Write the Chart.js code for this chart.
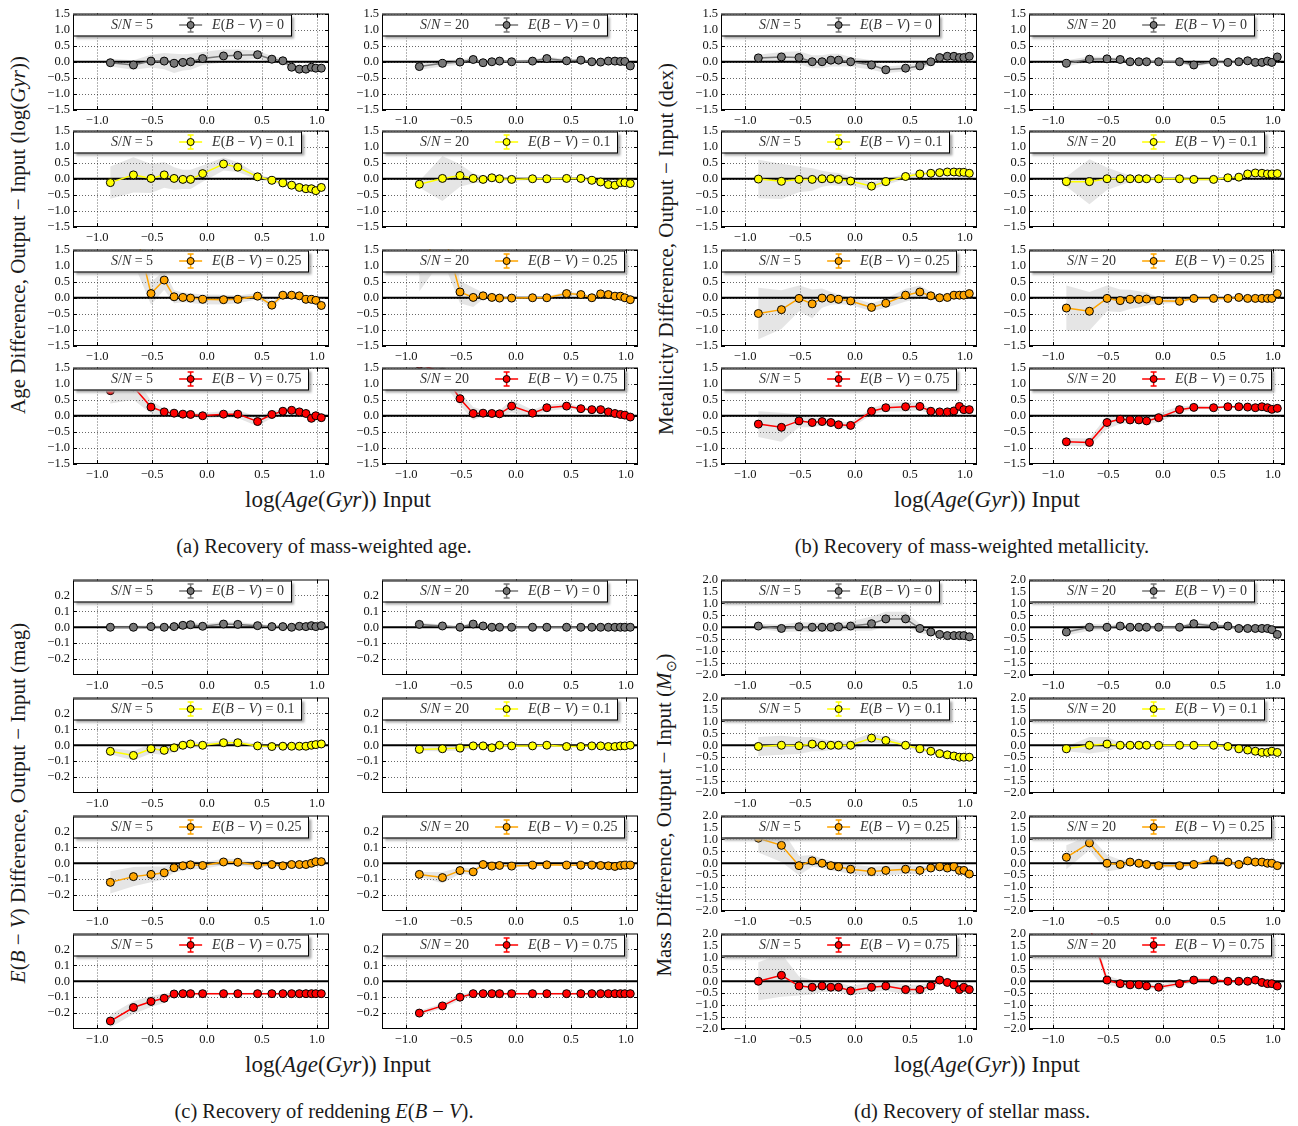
<!DOCTYPE html>
<html>
<head>
<meta charset="utf-8">
<script src="https://cdn.jsdelivr.net/npm/chart.js@4.4.0/dist/chart.umd.min.js"></script>
<style>
  body { margin: 0; background: #fff; }
  #page { position: relative; width: 1298px; height: 1126px; overflow: hidden;
          font-family: "Liberation Serif", serif; color: #1a1a1a; background: #fff; }
  #page canvas { position: absolute; }
  .ylab { position: absolute; white-space: nowrap; font-size: 21px;
          transform: translate(-50%, -50%) rotate(-90deg); }
  .xlab { position: absolute; white-space: nowrap; font-size: 23px; transform: translate(-50%, -50%); }
  .cap  { position: absolute; white-space: nowrap; font-size: 20.5px; transform: translate(-50%, -50%); }
</style>
</head>
<body>
<div id="page">
  <div class="ylab" style="left:18px; top:235px">Age Difference, Output &minus; Input (log(<i>Gyr</i>))</div>
  <div class="ylab" style="left:666px; top:249px">Metallicity Difference, Output &minus; Input (dex)</div>
  <div class="ylab" style="left:18px; top:803px"><i>E</i>(<i>B</i> &minus; <i>V</i>) Difference, Output &minus; Input (mag)</div>
  <div class="ylab" style="left:666px; top:815px">Mass Difference, Output &minus; Input (<i>M</i><sub style="font-size:14px">&#8857;</sub>)</div>

  <div class="xlab" style="left:338px; top:500px">log(<i>Age</i>(<i>Gyr</i>)) Input</div>
  <div class="xlab" style="left:987px; top:500px">log(<i>Age</i>(<i>Gyr</i>)) Input</div>
  <div class="xlab" style="left:338px; top:1065px">log(<i>Age</i>(<i>Gyr</i>)) Input</div>
  <div class="xlab" style="left:987px; top:1065px">log(<i>Age</i>(<i>Gyr</i>)) Input</div>

  <div class="cap" style="left:324px; top:546px">(a) Recovery of mass-weighted age.</div>
  <div class="cap" style="left:972px; top:546px">(b) Recovery of mass-weighted metallicity.</div>
  <div class="cap" style="left:324px; top:1111px">(c) Recovery of reddening <i>E</i>(<i>B</i> &minus; <i>V</i>).</div>
  <div class="cap" style="left:972px; top:1111px">(d) Recovery of stellar mass.</div>
</div>
<script>
// input ages, log(Gyr)
const logAge = [-0.88, -0.67, -0.51, -0.39, -0.30, -0.22, -0.15, -0.04, 0.15, 0.28, 0.46, 0.59, 0.69, 0.77, 0.84, 0.90, 0.95, 0.99, 1.04];

const snLabels = ['5', '20'];
const ebvLabels = ['0', '0.1', '0.25', '0.75'];
const ebvColors = ['#777777', '#ffff00', '#ffa500', '#ff0000'];

const xTicks = [-1.0, -0.5, 0.0, 0.5, 1.0];
const ticksAge = [-1.5, -1.0, -0.5, 0.0, 0.5, 1.0, 1.5];
const ticksEbv = [-0.2, -0.1, 0.0, 0.1, 0.2];
const ticksMass = [-2.0, -1.5, -1.0, -0.5, 0.0, 0.5, 1.0, 1.5, 2.0];

// age difference, one row per E(B-V)
const ageSN5 = [
  [-0.03, -0.10, 0.02, 0.02, -0.05, -0.02, 0.00, 0.10, 0.18, 0.20, 0.22, 0.08, 0.03, -0.17, -0.23, -0.23, -0.17, -0.20, -0.20],
  [-0.12, 0.12, 0.01, 0.12, 0.01, -0.02, -0.02, 0.16, 0.46, 0.36, 0.06, -0.05, -0.13, -0.20, -0.27, -0.31, -0.31, -0.37, -0.27],
  [2.50, 2.40, 0.13, 0.55, 0.03, 0.01, -0.01, -0.05, -0.06, -0.05, 0.05, -0.23, 0.08, 0.08, 0.06, -0.05, -0.05, -0.08, -0.24],
  [0.78, 0.90, 0.27, 0.12, 0.08, 0.05, 0.04, 0.00, 0.05, 0.05, -0.18, 0.04, 0.14, 0.17, 0.12, 0.07, -0.08, 0.00, -0.06]
];
const ageSN5Err = [
  [0.12, 0.15, 0.20, 0.25, 0.30, 0.25, 0.25, 0.20, 0.20, 0.18, 0.12, 0.10, 0.08, 0.06, 0.05, 0.05, 0.05, 0.05, 0.05],
  [0.50, 0.55, 0.45, 0.40, 0.35, 0.30, 0.30, 0.25, 0.20, 0.15, 0.08, 0.06, 0.05, 0.05, 0.05, 0.05, 0.05, 0.05, 0.05],
  [1.50, 1.30, 0.35, 0.30, 0.20, 0.15, 0.15, 0.15, 0.15, 0.12, 0.10, 0.10, 0.08, 0.08, 0.06, 0.06, 0.06, 0.06, 0.06],
  [0.40, 0.40, 0.20, 0.10, 0.08, 0.07, 0.07, 0.08, 0.10, 0.12, 0.15, 0.10, 0.08, 0.06, 0.06, 0.06, 0.06, 0.06, 0.06]
];
const ageSN20 = [
  [-0.15, -0.05, -0.01, 0.07, -0.03, 0.00, 0.02, 0.00, 0.02, 0.10, 0.03, 0.05, 0.00, -0.01, 0.02, 0.02, 0.01, 0.01, -0.13],
  [-0.17, 0.01, 0.10, 0.01, -0.02, 0.03, 0.00, -0.02, 0.00, 0.00, 0.01, 0.01, -0.05, -0.10, -0.18, -0.20, -0.12, -0.12, -0.15],
  [0.90, 2.20, 0.18, 0.01, 0.06, 0.01, -0.01, -0.01, 0.00, 0.00, 0.13, 0.10, 0.00, 0.12, 0.10, 0.05, 0.05, 0.00, -0.06],
  [1.60, 1.35, 0.53, 0.07, 0.08, 0.07, 0.06, 0.30, 0.08, 0.25, 0.30, 0.22, 0.19, 0.19, 0.12, 0.07, 0.04, 0.02, -0.04]
];
const ageSN20Err = [
  [0.10, 0.10, 0.08, 0.06, 0.05, 0.05, 0.05, 0.05, 0.05, 0.06, 0.05, 0.05, 0.05, 0.04, 0.04, 0.04, 0.04, 0.04, 0.06],
  [0.10, 0.70, 0.35, 0.15, 0.10, 0.07, 0.06, 0.05, 0.04, 0.04, 0.04, 0.04, 0.04, 0.04, 0.05, 0.05, 0.05, 0.05, 0.05],
  [0.70, 1.00, 0.35, 0.30, 0.10, 0.06, 0.05, 0.04, 0.04, 0.05, 0.06, 0.05, 0.05, 0.05, 0.05, 0.05, 0.04, 0.04, 0.04],
  [0.30, 0.30, 0.20, 0.20, 0.10, 0.08, 0.10, 0.20, 0.10, 0.10, 0.08, 0.06, 0.05, 0.05, 0.05, 0.04, 0.04, 0.04, 0.04]
];

// metallicity difference (dex)
const metSN5 = [
  [0.12, 0.15, 0.13, 0.00, 0.00, 0.05, 0.05, 0.00, -0.10, -0.25, -0.20, -0.13, 0.00, 0.13, 0.17, 0.17, 0.13, 0.13, 0.17],
  [-0.01, -0.08, -0.02, -0.02, 0.00, 0.00, -0.02, -0.07, -0.23, -0.09, 0.07, 0.15, 0.17, 0.19, 0.21, 0.21, 0.20, 0.20, 0.17],
  [-0.49, -0.37, -0.02, -0.19, -0.01, -0.02, -0.05, -0.10, -0.30, -0.17, 0.08, 0.18, 0.06, 0.00, 0.01, 0.08, 0.08, 0.08, 0.13],
  [-0.26, -0.36, -0.16, -0.21, -0.18, -0.21, -0.28, -0.30, 0.14, 0.25, 0.28, 0.29, 0.14, 0.12, 0.12, 0.15, 0.29, 0.19, 0.19]
];
const metSN5Err = [
  [0.10, 0.15, 0.20, 0.20, 0.20, 0.20, 0.20, 0.15, 0.15, 0.10, 0.10, 0.10, 0.10, 0.05, 0.05, 0.05, 0.05, 0.05, 0.05],
  [0.60, 0.55, 0.40, 0.35, 0.25, 0.20, 0.20, 0.15, 0.12, 0.10, 0.08, 0.06, 0.06, 0.05, 0.05, 0.05, 0.05, 0.05, 0.05],
  [0.80, 0.60, 0.40, 0.45, 0.30, 0.20, 0.15, 0.12, 0.12, 0.15, 0.20, 0.20, 0.12, 0.08, 0.06, 0.06, 0.06, 0.06, 0.06],
  [0.40, 0.45, 0.20, 0.15, 0.12, 0.12, 0.10, 0.10, 0.10, 0.12, 0.15, 0.12, 0.08, 0.06, 0.06, 0.06, 0.06, 0.05, 0.05]
];
const metSN20 = [
  [-0.05, 0.08, 0.09, 0.07, 0.00, 0.00, 0.00, 0.00, 0.00, -0.10, -0.01, -0.02, 0.00, 0.03, -0.02, -0.02, 0.02, -0.02, 0.15],
  [-0.09, -0.09, 0.00, 0.00, 0.00, 0.00, 0.00, 0.00, 0.00, -0.02, -0.02, 0.03, 0.05, 0.15, 0.18, 0.17, 0.15, 0.15, 0.16],
  [-0.32, -0.42, -0.02, -0.09, -0.05, -0.05, -0.04, -0.09, -0.11, -0.02, -0.02, -0.02, 0.01, -0.02, -0.02, -0.02, -0.02, -0.02, 0.13],
  [-0.81, -0.83, -0.21, -0.11, -0.13, -0.13, -0.16, -0.06, 0.19, 0.26, 0.25, 0.28, 0.28, 0.27, 0.25, 0.28, 0.25, 0.20, 0.23]
];
const metSN20Err = [
  [0.10, 0.08, 0.06, 0.05, 0.04, 0.04, 0.04, 0.04, 0.05, 0.06, 0.04, 0.04, 0.04, 0.04, 0.04, 0.04, 0.04, 0.04, 0.05],
  [0.15, 0.70, 0.35, 0.20, 0.10, 0.08, 0.06, 0.05, 0.04, 0.04, 0.04, 0.04, 0.04, 0.04, 0.04, 0.04, 0.04, 0.04, 0.04],
  [0.70, 0.60, 0.40, 0.35, 0.30, 0.25, 0.20, 0.10, 0.05, 0.04, 0.04, 0.04, 0.04, 0.04, 0.04, 0.04, 0.04, 0.04, 0.05],
  [0.12, 0.12, 0.20, 0.15, 0.10, 0.10, 0.10, 0.15, 0.10, 0.06, 0.05, 0.04, 0.04, 0.04, 0.04, 0.04, 0.04, 0.04, 0.04]
];

// reddening difference (mag)
const ebvSN5 = [
  [0.000, 0.000, 0.004, 0.000, 0.004, 0.012, 0.016, 0.006, 0.020, 0.018, 0.010, 0.004, 0.004, 0.000, 0.006, 0.004, 0.010, 0.004, 0.010],
  [-0.038, -0.064, -0.022, -0.032, -0.016, 0.000, 0.008, 0.000, 0.016, 0.016, -0.004, -0.008, -0.006, -0.006, -0.006, -0.006, 0.000, 0.004, 0.008],
  [-0.120, -0.084, -0.070, -0.060, -0.028, -0.016, -0.010, -0.014, 0.008, 0.006, -0.012, -0.008, -0.016, -0.008, -0.008, -0.008, 0.000, 0.010, 0.010],
  [-0.250, -0.165, -0.127, -0.107, -0.080, -0.078, -0.078, -0.078, -0.078, -0.078, -0.078, -0.078, -0.078, -0.078, -0.078, -0.078, -0.078, -0.078, -0.078]
];
const ebvSN5Err = [
  [0.010, 0.010, 0.010, 0.010, 0.015, 0.020, 0.020, 0.015, 0.015, 0.015, 0.010, 0.010, 0.010, 0.010, 0.010, 0.010, 0.010, 0.010, 0.010],
  [0.020, 0.030, 0.030, 0.030, 0.025, 0.020, 0.020, 0.015, 0.015, 0.015, 0.010, 0.010, 0.010, 0.010, 0.010, 0.010, 0.010, 0.010, 0.010],
  [0.070, 0.060, 0.050, 0.040, 0.030, 0.030, 0.030, 0.020, 0.020, 0.020, 0.015, 0.010, 0.010, 0.010, 0.010, 0.010, 0.010, 0.010, 0.010],
  [0.040, 0.040, 0.035, 0.030, 0.010, 0.005, 0.005, 0.005, 0.005, 0.005, 0.005, 0.005, 0.005, 0.005, 0.005, 0.005, 0.005, 0.005, 0.005]
];
const ebvSN20 = [
  [0.018, 0.008, 0.000, 0.020, 0.008, 0.000, 0.000, 0.000, 0.000, 0.000, 0.000, 0.000, 0.000, 0.000, 0.000, 0.000, 0.000, 0.000, 0.000],
  [-0.026, -0.022, -0.018, -0.004, -0.004, -0.016, 0.000, -0.004, -0.004, 0.000, -0.008, -0.008, -0.004, -0.004, -0.008, -0.008, -0.004, -0.004, 0.000],
  [-0.070, -0.090, -0.046, -0.054, -0.008, -0.018, -0.014, -0.018, -0.012, -0.010, -0.012, -0.012, -0.012, -0.014, -0.016, -0.020, -0.014, -0.012, -0.012],
  [-0.200, -0.155, -0.100, -0.078, -0.078, -0.078, -0.078, -0.078, -0.078, -0.078, -0.078, -0.078, -0.078, -0.078, -0.078, -0.078, -0.078, -0.078, -0.078]
];
const ebvSN20Err = [
  [0.010, 0.010, 0.010, 0.010, 0.005, 0.005, 0.005, 0.005, 0.005, 0.005, 0.005, 0.005, 0.005, 0.005, 0.005, 0.005, 0.005, 0.005, 0.005],
  [0.010, 0.015, 0.015, 0.015, 0.010, 0.010, 0.005, 0.005, 0.005, 0.005, 0.005, 0.005, 0.005, 0.005, 0.005, 0.005, 0.005, 0.005, 0.005],
  [0.015, 0.035, 0.020, 0.020, 0.010, 0.005, 0.005, 0.005, 0.005, 0.005, 0.005, 0.005, 0.005, 0.005, 0.005, 0.005, 0.005, 0.005, 0.005],
  [0.015, 0.015, 0.020, 0.010, 0.005, 0.005, 0.005, 0.005, 0.005, 0.005, 0.005, 0.005, 0.005, 0.005, 0.005, 0.005, 0.005, 0.005, 0.005]
];

// stellar mass difference
const massSN5 = [
  [0.05, -0.05, 0.02, 0.00, 0.00, 0.00, 0.02, 0.05, 0.15, 0.35, 0.35, -0.05, -0.20, -0.30, -0.35, -0.35, -0.35, -0.35, -0.40],
  [-0.05, 0.00, -0.02, 0.05, 0.00, 0.00, 0.00, 0.00, 0.30, 0.20, 0.00, -0.15, -0.25, -0.35, -0.40, -0.45, -0.50, -0.50, -0.50],
  [1.05, 0.75, -0.10, 0.10, 0.00, -0.10, -0.15, -0.25, -0.35, -0.30, -0.25, -0.30, -0.20, -0.15, -0.20, -0.15, -0.30, -0.30, -0.45],
  [0.00, 0.25, -0.20, -0.25, -0.20, -0.25, -0.25, -0.40, -0.25, -0.20, -0.35, -0.35, -0.20, 0.05, -0.05, -0.15, -0.35, -0.25, -0.35]
];
const massSN5Err = [
  [0.10, 0.15, 0.20, 0.20, 0.20, 0.20, 0.20, 0.20, 0.30, 0.30, 0.30, 0.20, 0.10, 0.08, 0.06, 0.06, 0.06, 0.06, 0.06],
  [0.40, 0.40, 0.35, 0.30, 0.25, 0.20, 0.20, 0.20, 0.20, 0.15, 0.10, 0.08, 0.06, 0.06, 0.06, 0.06, 0.06, 0.06, 0.06],
  [0.60, 0.70, 0.40, 0.25, 0.20, 0.20, 0.20, 0.20, 0.20, 0.20, 0.20, 0.15, 0.12, 0.10, 0.10, 0.10, 0.10, 0.10, 0.10],
  [0.80, 0.90, 0.40, 0.30, 0.25, 0.20, 0.20, 0.20, 0.20, 0.20, 0.20, 0.20, 0.15, 0.15, 0.10, 0.10, 0.10, 0.10, 0.10]
];
const massSN20 = [
  [-0.20, 0.00, 0.00, 0.05, 0.00, 0.00, 0.00, 0.00, 0.00, 0.15, 0.05, 0.05, -0.05, -0.05, -0.05, -0.05, -0.05, -0.10, -0.30],
  [-0.15, 0.00, 0.05, 0.00, 0.00, 0.00, 0.00, 0.00, 0.00, 0.00, 0.00, -0.05, -0.15, -0.20, -0.25, -0.30, -0.30, -0.25, -0.30],
  [0.25, 0.85, 0.00, -0.05, 0.05, 0.00, -0.05, -0.10, -0.10, -0.05, 0.15, 0.05, -0.05, 0.10, 0.05, 0.05, 0.00, 0.00, -0.10],
  [2.50, 2.30, 0.05, -0.10, -0.15, -0.15, -0.20, -0.25, -0.10, 0.05, 0.05, 0.00, 0.00, 0.00, 0.05, -0.05, -0.10, -0.10, -0.20]
];
const massSN20Err = [
  [0.15, 0.15, 0.10, 0.08, 0.06, 0.06, 0.06, 0.06, 0.06, 0.08, 0.06, 0.06, 0.05, 0.05, 0.05, 0.05, 0.05, 0.05, 0.05],
  [0.10, 0.35, 0.30, 0.10, 0.08, 0.06, 0.06, 0.05, 0.05, 0.05, 0.05, 0.05, 0.05, 0.05, 0.05, 0.05, 0.05, 0.05, 0.05],
  [0.50, 0.30, 0.35, 0.20, 0.10, 0.08, 0.08, 0.08, 0.08, 0.08, 0.08, 0.08, 0.08, 0.08, 0.08, 0.08, 0.08, 0.08, 0.08],
  [0.20, 0.20, 0.20, 0.15, 0.15, 0.12, 0.10, 0.10, 0.10, 0.10, 0.08, 0.06, 0.06, 0.06, 0.06, 0.06, 0.06, 0.06, 0.06]
];

// ---- layout ----
const X_MIN = -1.22, X_MAX = 1.11;
const PLOT_W = 256, AXIS_W = 44, PAD_T = 8, PAD_R = 6, AXIS_H = 22;
const FONT = '"Liberation Serif", serif';

const panels = [
  { cols: [73, 382], tops: [11, 128, 247, 365], h: 99, yMin: -1.5, yMax: 1.5, yTicks: ticksAge,
    vals: [ageSN5, ageSN20], errs: [ageSN5Err, ageSN20Err] },
  { cols: [721, 1029], tops: [11, 128, 247, 365], h: 99, yMin: -1.5, yMax: 1.5, yTicks: ticksAge,
    vals: [metSN5, metSN20], errs: [metSN5Err, metSN20Err] },
  { cols: [73, 382], tops: [577, 695, 813, 931], h: 98, yMin: -0.3, yMax: 0.3, yTicks: ticksEbv,
    vals: [ebvSN5, ebvSN20], errs: [ebvSN5Err, ebvSN20Err] },
  { cols: [721, 1029], tops: [577, 695, 813, 931], h: 98, yMin: -2.0, yMax: 2.0, yTicks: ticksMass,
    vals: [massSN5, massSN20], errs: [massSN5Err, massSN20Err] }
];

function fmtTick(v) {
  const s = Math.abs(v).toFixed(1);
  return v < -1e-9 ? '\u2212' + s : s;
}

function drawRuns(ctx, runs, x, y, size) {
  runs.forEach(r => {
    ctx.font = (r.it ? 'italic ' : '') + size + 'px ' + FONT;
    ctx.fillText(r.t, x, y);
    x += ctx.measureText(r.t).width;
  });
  return x;
}
function runsWidth(ctx, runs, size) {
  let w = 0;
  runs.forEach(r => {
    ctx.font = (r.it ? 'italic ' : '') + size + 'px ' + FONT;
    w += ctx.measureText(r.t).width;
  });
  return w;
}

// grid, scatter band, zero line, frame and the little legend box
const subplotDecor = {
  id: 'subplotDecor',
  beforeDatasetsDraw(chart, args, o) {
    const { ctx, chartArea: a, scales: { x, y } } = chart;
    const pts = chart.data.datasets[0].data;
    ctx.save();
    ctx.beginPath();
    ctx.rect(a.left, a.top, a.right - a.left, a.bottom - a.top);
    ctx.clip();

    // dotted grid
    ctx.strokeStyle = 'rgba(0,0,0,0.75)';
    ctx.lineWidth = 0.8;
    ctx.setLineDash([1, 2]);
    x.ticks.forEach(t => {
      const px = Math.round(x.getPixelForValue(t.value)) + 0.5;
      ctx.beginPath(); ctx.moveTo(px, a.top); ctx.lineTo(px, a.bottom); ctx.stroke();
    });
    y.ticks.forEach(t => {
      const py = Math.round(y.getPixelForValue(t.value)) + 0.5;
      ctx.beginPath(); ctx.moveTo(a.left, py); ctx.lineTo(a.right, py); ctx.stroke();
    });
    ctx.setLineDash([]);

    // spread band
    ctx.fillStyle = 'rgba(150,150,150,0.25)';
    ctx.beginPath();
    pts.forEach((p, i) => ctx.lineTo(x.getPixelForValue(p.x), y.getPixelForValue(p.y + o.err[i])));
    for (let i = pts.length - 1; i >= 0; i--) {
      ctx.lineTo(x.getPixelForValue(pts[i].x), y.getPixelForValue(pts[i].y - o.err[i]));
    }
    ctx.closePath();
    ctx.fill();

    // zero line
    const y0 = y.getPixelForValue(0);
    ctx.strokeStyle = '#000';
    ctx.lineWidth = 2;
    ctx.beginPath(); ctx.moveTo(a.left, y0); ctx.lineTo(a.right, y0); ctx.stroke();
    ctx.restore();
  },
  afterDraw(chart, args, o) {
    const { ctx, chartArea: a, scales: { x, y } } = chart;
    ctx.save();
    // frame + inward ticks
    ctx.strokeStyle = '#000';
    ctx.lineWidth = 1;
    ctx.strokeRect(a.left + 0.5, a.top + 0.5, a.right - a.left - 1, a.bottom - a.top - 1);
    ctx.beginPath();
    x.ticks.forEach(t => {
      const px = Math.round(x.getPixelForValue(t.value)) + 0.5;
      ctx.moveTo(px, a.bottom); ctx.lineTo(px, a.bottom - 4);
      ctx.moveTo(px, a.top); ctx.lineTo(px, a.top + 4);
    });
    y.ticks.forEach(t => {
      const py = Math.round(y.getPixelForValue(t.value)) + 0.5;
      ctx.moveTo(a.left, py); ctx.lineTo(a.left + 4, py);
      ctx.moveTo(a.right, py); ctx.lineTo(a.right - 4, py);
    });
    ctx.stroke();

    // legend
    const size = 14;
    const snRuns = [{ t: 'S', it: true }, { t: '/' }, { t: 'N', it: true }, { t: ' = ' + o.sn }];
    const ebRuns = [{ t: 'E', it: true }, { t: '(' }, { t: 'B', it: true }, { t: ' \u2212 ' },
                    { t: 'V', it: true }, { t: ') = ' + o.ebv }];
    const L = a.left, T = a.top + 1, H = 21;
    const t1 = L + 38;
    const hs = t1 + runsWidth(ctx, snRuns, size) + 26, he = hs + 23;
    const t2 = he + 10;
    const R = t2 + runsWidth(ctx, ebRuns, size) + 7;
    const cy = T + H / 2, cx = (hs + he) / 2;

    ctx.filter = 'blur(1px)';
    ctx.fillStyle = '#a6a6a6';
    ctx.fillRect(L + 3, T + 3, R - L, H);
    ctx.filter = 'none';
    ctx.fillStyle = '#fff';
    ctx.fillRect(L, T, R - L, H);
    ctx.strokeStyle = '#000';
    ctx.lineWidth = 1;
    ctx.strokeRect(Math.round(L) + 0.5, T + 0.5, Math.round(R - L), H);

    ctx.fillStyle = '#333';
    ctx.textBaseline = 'middle';
    drawRuns(ctx, snRuns, t1, cy + 0.5, size);
    drawRuns(ctx, ebRuns, t2, cy + 0.5, size);

    ctx.strokeStyle = o.color;
    ctx.lineWidth = 1.5;
    ctx.beginPath();
    ctx.moveTo(hs, cy); ctx.lineTo(he, cy);
    ctx.moveTo(cx, cy - 7); ctx.lineTo(cx, cy + 7);
    ctx.moveTo(cx - 3, cy - 7); ctx.lineTo(cx + 3, cy - 7);
    ctx.moveTo(cx - 3, cy + 7); ctx.lineTo(cx + 3, cy + 7);
    ctx.stroke();
    ctx.beginPath();
    ctx.arc(cx, cy, 3.5, 0, Math.PI * 2);
    ctx.fillStyle = o.color;
    ctx.fill();
    ctx.strokeStyle = '#000';
    ctx.lineWidth = 1;
    ctx.stroke();
    ctx.restore();
  }
};

const page = document.getElementById('page');

function makeSubplot(left, top, h, cfg, vals, err, snIdx, ebvIdx, showXTicks) {
  const canvas = document.createElement('canvas');
  const w = AXIS_W + PLOT_W + PAD_R, ch = PAD_T + h + AXIS_H;
  canvas.width = w; canvas.height = ch;
  canvas.style.left = (left - AXIS_W) + 'px';
  canvas.style.top = (top - PAD_T) + 'px';
  page.appendChild(canvas);

  const color = ebvColors[ebvIdx];
  new Chart(canvas, {
    type: 'line',
    data: {
      datasets: [{
        data: logAge.map((v, i) => ({ x: v, y: vals[i] })),
        borderColor: color,
        borderWidth: 1.5,
        pointRadius: 4,
        pointBackgroundColor: color,
        pointBorderColor: '#000',
        pointBorderWidth: 1,
        tension: 0,
        fill: false
      }]
    },
    options: {
      responsive: false,
      animation: false,
      events: [],
      layout: { padding: { top: PAD_T, right: PAD_R, left: 0, bottom: 0 } },
      plugins: {
        legend: { display: false },
        tooltip: { enabled: false },
        subplotDecor: { err: err, sn: snLabels[snIdx], ebv: ebvLabels[ebvIdx], color: color }
      },
      scales: {
        x: {
          type: 'linear', min: X_MIN, max: X_MAX,
          grid: { display: false, drawTicks: false },
          border: { display: false },
          afterBuildTicks: s => { s.ticks = xTicks.map(v => ({ value: v })); },
          afterFit: s => { s.height = AXIS_H; },
          ticks: { display: showXTicks, autoSkip: false, maxRotation: 0, padding: 3,
                   color: '#111', font: { family: FONT, size: 12.5 }, callback: v => fmtTick(v) }
        },
        y: {
          type: 'linear', min: cfg.yMin, max: cfg.yMax,
          grid: { display: false, drawTicks: false },
          border: { display: false },
          afterBuildTicks: s => { s.ticks = cfg.yTicks.map(v => ({ value: v })); },
          afterFit: s => { s.width = AXIS_W; },
          ticks: { autoSkip: false, padding: 3, color: '#111',
                   font: { family: FONT, size: 12.5 }, callback: v => fmtTick(v) }
        }
      }
    },
    plugins: [subplotDecor]
  });
}

panels.forEach(p => {
  for (let col = 0; col < 2; col++) {
    for (let row = 0; row < 4; row++) {
      const showX = !(col === 1 && row === 1);
      makeSubplot(p.cols[col], p.tops[row], p.h, p, p.vals[col][row], p.errs[col][row], col, row, showX);
    }
  }
});
</script>
</body>
</html>
